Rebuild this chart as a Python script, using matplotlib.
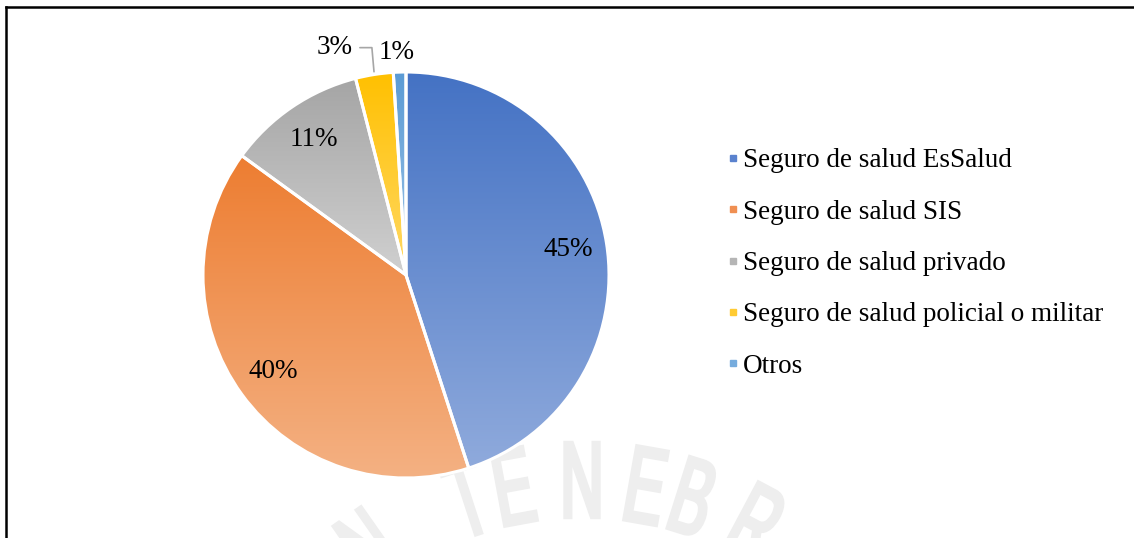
import numpy as np
import matplotlib
matplotlib.use('Agg')
import matplotlib.pyplot as plt
from matplotlib.colors import to_rgb
from matplotlib.lines import Line2D
from matplotlib.textpath import TextPath
from matplotlib.patches import PathPatch
from matplotlib.font_manager import FontProperties
from matplotlib.transforms import Affine2D

categories = ['Seguro de salud EsSalud', 'Seguro de salud SIS', 'Seguro de salud privado',
              'Seguro de salud policial o militar', 'Otros']
values = [45, 40, 11, 3, 1]
top_colors = ['#4472C4', '#ED7D31', '#A5A5A5', '#FFC000', '#5B9BD5']
bottom_colors = ['#8FAADC', '#F4B183', '#D0D0D0', '#FFD966', '#9DC3E6']
mid_colors = ['#5A82CE', '#F08F52', '#B5B5B5', '#FFCB33', '#76ACDD']

plt.rcParams['font.family'] = ['Liberation Serif', 'DejaVu Serif']
W, H = 1134, 538
fig = plt.figure(figsize=(W / 100, H / 100), dpi=100)

# faint watermark (seal lettering) in a background axes, drawn as condensed glyph outlines
bg = fig.add_axes([0, 0, 1, 1], zorder=-1)
bg.set_xlim(0, W)
bg.set_ylim(0, H)
bg.axis('off')
wm_letters = ['N', 'T', 'E', 'N', 'E', 'B', 'R']
wm_angles = [-35, -18, -10.5, 0, 10, 17.5, 28]
cx, cy, rr = 582, 852, 372
fp = FontProperties(family='Liberation Sans')
for ch, a in zip(wm_letters, wm_angles):
    px = cx + rr * np.sin(np.radians(a))
    py = cy - rr * np.cos(np.radians(a))
    tp = TextPath((0, 0), ch, size=108, prop=fp)
    e = tp.get_extents()
    tr = (Affine2D().translate(-(e.x0 + e.x1) / 2, -(e.y0 + e.y1) / 2)
          .scale(0.55, 1).rotate_deg(-a).translate(px, H - py))
    bg.add_patch(PathPatch(tr.transform_path(tp), facecolor='#EEEEEE', edgecolor='#EEEEEE',
                           linewidth=3, joinstyle='miter'))

ax = fig.add_axes([203 / W, 60 / H, 406 / W, 406 / H])
wedges, _ = ax.pie(values, startangle=90, counterclock=False, radius=1,
                   wedgeprops=dict(edgecolor='white', linewidth=2.2, facecolor='none'))

for w, c0, c1 in zip(wedges, top_colors, bottom_colors):
    ext = w.get_path().get_extents()
    t = np.linspace(0, 1, 256)[:, None, None]
    grad = (1 - t) * np.array(to_rgb(c0)) + t * np.array(to_rgb(c1))
    im = ax.imshow(grad, extent=(ext.x0, ext.x1, ext.y0, ext.y1), aspect='auto',
                   interpolation='bilinear', zorder=1)
    im.set_clip_path(w)
    w.set_zorder(2)

ax.set_xlim(-1, 1)
ax.set_ylim(-1, 1)
ax.axis('off')

# percentage labels
for i, (w, v) in enumerate(zip(wedges, values)):
    ang = np.radians((w.theta1 + w.theta2) / 2)
    x, y = np.cos(ang), np.sin(ang)
    if v >= 10:
        ax.text(0.81 * x, 0.81 * y, f'{v}%', fontsize=19.5, ha='center', va='center', zorder=3)

# small slices with outside labels
w3 = wedges[3]
a3 = np.radians((w3.theta1 + w3.theta2) / 2)
ax.annotate(f'{values[3]}%', xy=(np.cos(a3), np.sin(a3)), xytext=(-0.35, 1.12),
            fontsize=19.5, ha='center', va='center', annotation_clip=False,
            arrowprops=dict(arrowstyle='-', color='#A6A6A6', lw=1.2,
                            connectionstyle='angle,angleA=0,angleB=95,rad=0',
                            shrinkA=3, shrinkB=2))
ax.text(-0.045, 1.095, f'{values[4]}%', fontsize=19.5, ha='center', va='center')

handles = [Line2D([], [], marker='s', linestyle='none', markersize=5,
                  markerfacecolor=c, markeredgecolor=c) for c in mid_colors]
fig.legend(handles, categories, loc='center left', bbox_to_anchor=(726 / W, 1 - 263.5 / H),
           frameon=False, fontsize=19.5, labelspacing=0.97, handlelength=0.5,
           handletextpad=0.12, borderpad=0, borderaxespad=0)

# chart border (left and top)
fig.add_artist(Line2D([5.5 / W, 5.5 / W], [0, 1 - 7 / H], color='black', lw=1.8))
fig.add_artist(Line2D([5.5 / W, 1], [1 - 7 / H, 1 - 7 / H], color='black', lw=1.8))

fig.savefig('out.png', dpi=100)
